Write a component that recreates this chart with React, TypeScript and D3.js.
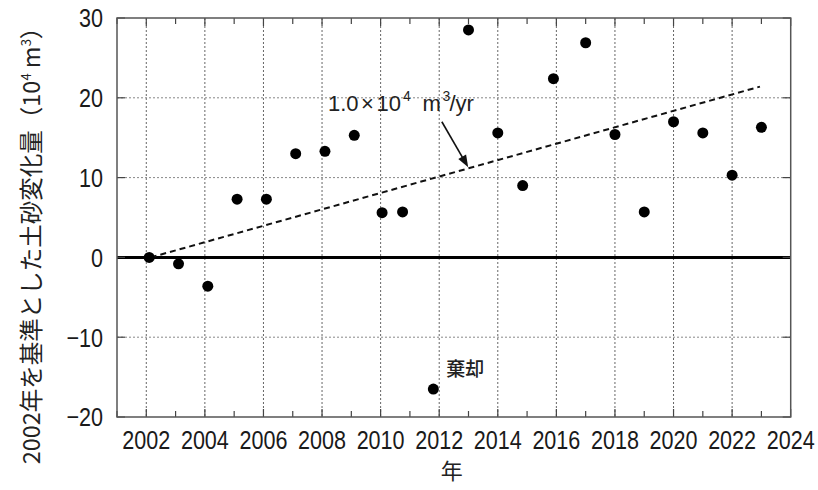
import React from "react";
import * as d3 from "d3";

const years = [2002.1, 2003.1, 2004.1, 2005.1, 2006.1, 2007.1, 2008.1, 2009.1, 2010.05, 2010.75, 2011.8, 2013.0, 2014.0, 2014.85, 2015.9, 2017.0, 2018.0, 2019.0, 2020.0, 2021.0, 2022.0, 2023.0];
const values = [0, -0.8, -3.6, 7.3, 7.3, 13.0, 13.3, 15.3, 5.6, 5.7, -16.5, 28.5, 15.6, 9.0, 22.4, 26.9, 15.4, 5.7, 17.0, 15.6, 10.3, 16.3];
const trendYears = [2002.15, 2022.95];
const trendValues = [0, 21.4];
const xTicks = [2002, 2004, 2006, 2008, 2010, 2012, 2014, 2016, 2018, 2020, 2022, 2024];
const xMinorTicks = [2001, 2003, 2005, 2007, 2009, 2011, 2013, 2015, 2017, 2019, 2021, 2023];
const yTicks = [-20, -10, 0, 10, 20, 30];

const W = 818, H = 490;
const L = 117, R = 790.7, T = 18, B = 417;

export default function App() {
  const x = d3.scaleLinear().domain([2001, 2024]).range([L, R]);
  const y = d3.scaleLinear().domain([-20, 30]).range([B, T]);
  const line = d3.line<number>().x((_, i) => x(trendYears[i])).y((d) => y(d));
  const tickFont = "'Liberation Sans', Arial, sans-serif";
  const jp = "'Noto Sans CJK JP', sans-serif";
  const grid = "#666";
  const sx = 0.83;
  // arrow
  const ax1 = x(2012.09), ay1 = y(17.0), ax2 = x(2012.99), ay2 = y(11.3);
  const ang = Math.atan2(ay2 - ay1, ax2 - ax1);
  const hl = 12, hw = 4.5;
  const p1 = [ax2 - hl * Math.cos(ang) + hw * Math.sin(ang), ay2 - hl * Math.sin(ang) - hw * Math.cos(ang)];
  const p2 = [ax2 - hl * Math.cos(ang) - hw * Math.sin(ang), ay2 - hl * Math.sin(ang) + hw * Math.cos(ang)];
  const annX = x(2008.2), annY = y(18.3);
  const annParts: [string, number, number, number][] = [
    ["1.0", 0, 0, 22], ["×", 33, 0, 22], ["10", 48.5, 0, 22], ["4", 75, -10, 14],
    ["m", 94.5, 0, 22], ["3", 114.5, -10, 14], ["/yr", 121.5, 0, 22],
  ];
  return (
    <svg width={W} height={H} style={{ position: "absolute", left: 0, top: 0, background: "#fff" }}>
      {/* grid */}
      {xTicks.slice(0, -1).map((t) => (
        <line key={"gx" + t} x1={x(t)} x2={x(t)} y1={T} y2={B} stroke={grid} strokeWidth={1} strokeDasharray="2,2" />
      ))}
      {yTicks.filter((t) => t !== -20 && t !== 30 && t !== 0).map((t) => (
        <line key={"gy" + t} x1={L} x2={R} y1={y(t)} y2={y(t)} stroke="#888" strokeWidth={1} strokeDasharray="2,2" />
      ))}
      {/* zero line */}
      <line x1={L} x2={R} y1={y(0)} y2={y(0)} stroke="#000" strokeWidth={3} />
      {/* minor/major ticks */}
      {xMinorTicks.map((t) => (
        <g key={"mt" + t}>
          <line x1={x(t)} x2={x(t)} y1={B} y2={B - 6} stroke="#444" strokeWidth={1.2} />
          <line x1={x(t)} x2={x(t)} y1={T} y2={T + 6} stroke="#444" strokeWidth={1.2} />
        </g>
      ))}
      {xTicks.map((t) => (
        <g key={"Mt" + t}>
          <line x1={x(t)} x2={x(t)} y1={B} y2={B - 8} stroke="#444" strokeWidth={1.2} />
          <line x1={x(t)} x2={x(t)} y1={T} y2={T + 8} stroke="#444" strokeWidth={1.2} />
        </g>
      ))}
      {yTicks.map((t) => (
        <g key={"yt" + t}>
          <line x1={L} x2={L + 8} y1={y(t)} y2={y(t)} stroke="#444" strokeWidth={1.2} />
          <line x1={R} x2={R - 8} y1={y(t)} y2={y(t)} stroke="#444" strokeWidth={1.2} />
        </g>
      ))}
      {/* border */}
      <rect x={L} y={T} width={R - L} height={B - T} fill="none" stroke="#555" strokeWidth={1.5} />
      {/* trend */}
      <path d={line(trendValues) || ""} fill="none" stroke="#111" strokeWidth={2} strokeDasharray="6,4" />
      {/* points */}
      {years.map((yr, i) => (
        <circle key={"p" + i} cx={x(yr)} cy={y(values[i])} r={5.5} fill="#000" />
      ))}
      {/* arrow */}
      <line x1={ax1} y1={ay1} x2={ax2 - 8 * Math.cos(ang)} y2={ay2 - 8 * Math.sin(ang)} stroke="#111" strokeWidth={1.6} />
      <polygon points={`${ax2},${ay2} ${p1[0]},${p1[1]} ${p2[0]},${p2[1]}`} fill="#111" />
      {/* annotation */}
      <g fontFamily="'Liberation Sans', Arial, sans-serif" fill="#222">
        {annParts.map(([s, dx, dy, fs], i) => (
          <text key={"a" + i} x={annX + dx} y={annY + dy} fontSize={fs}>{s}</text>
        ))}
      </g>
      <text x={x(2012.24)} y={y(-14.8)} fontFamily={jp} fontSize={19} fontWeight={500} fill="#222">棄却</text>
      {/* tick labels */}
      {xTicks.map((t) => (
        <text key={"xl" + t} transform={`translate(${x(t)},449) scale(${sx},1)`} textAnchor="middle" fontFamily={tickFont} fontSize={26} fill="#1a1a1a">{t}</text>
      ))}
      {yTicks.map((t) => (
        <text key={"yl" + t} transform={`translate(103,${y(t)}) scale(${sx},1)`} dy="0.36em" textAnchor="end" fontFamily={tickFont} fontSize={26} fill="#1a1a1a">{t < 0 ? "−" + Math.abs(t) : t}</text>
      ))}
      {/* axis titles */}
      <text x={(L + R) / 2 - 2} y={479} textAnchor="middle" fontFamily={jp} fontSize={22} fill="#222">年</text>
      <text transform={`translate(40,240) rotate(-90)`} textAnchor="middle" fontFamily={jp} fontSize={23.5} fill="#222">
        2002年を基準とした土砂変化量（10<tspan dy={-9} fontSize={13}>4</tspan>
        <tspan dy={9}> m</tspan>
        <tspan dy={-9} fontSize={13}>3</tspan>
        <tspan dy={9}>）</tspan>
      </text>
    </svg>
  );
}
